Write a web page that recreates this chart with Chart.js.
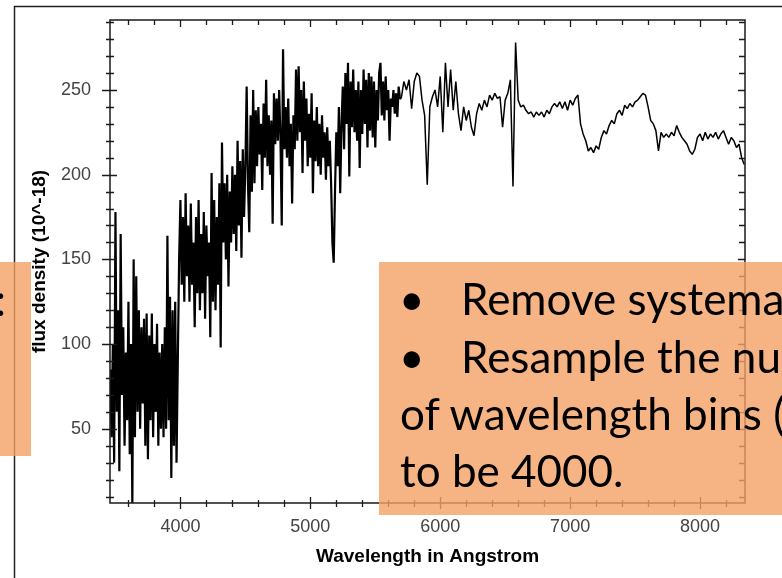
<!DOCTYPE html>
<html>
<head>
<meta charset="utf-8">
<script src="https://cdn.jsdelivr.net/npm/chart.js@4"></script>
<style>
  html, body { margin: 0; padding: 0; background: #fff; overflow: hidden; }
  #wrap { position: relative; width: 782px; height: 578px; overflow: hidden; }
  #spectrum { position: absolute; left: 0; top: 0; }
  .box { position: absolute; background: rgba(244, 160, 100, 0.8); }
  .slide-text { position: absolute; font-family: Lato, "Open Sans", sans-serif; font-size: 44px; line-height: 57.3px; color: #000; white-space: nowrap; }
</style>
</head>
<body>
<div id="wrap">
  <canvas id="spectrum" width="782" height="578"></canvas>
  <div class="box" style="left:0;top:262px;width:31px;height:194px"></div>
  <div class="box" style="left:379px;top:262px;width:420px;height:253px"></div>
  <div class="slide-text" style="left:-5px;top:271px">:</div>
  <div class="slide-text" style="left:399px;top:270px">•</div>
  <div class="slide-text" style="left:461px;top:270px">Remove systematic</div>
  <div class="slide-text" style="left:399px;top:327.6px">•</div>
  <div class="slide-text" style="left:461px;top:327.6px">Resample the number</div>
  <div class="slide-text" style="left:400px;top:384.9px">of wavelength bins (</div>
  <div class="slide-text" style="left:400px;top:442.2px">to be 4000.</div>
</div>
<script>
// spectrum: noisy blue part on a 10 A grid, red part on a 20 A grid
const noisyStart = 3460, noisyStep = 10;
const noisyFlux = [
  85, 45, 100, 30, 178, 60, 120, 25, 165, 70,
  110, 40, 95, 55, 125, 35, 100, 5, 150, 45,
  140, 60, 120, 50, 110, 65, 115, 40, 118, 32,
  105, 55, 118, 45, 100, 60, 112, 40, 95, 50,
  100, 45, 110, 50, 164, 55, 128, 21, 120, 40,
  125, 30, 90, 150, 185, 135, 175, 125, 189, 140,
  170, 125, 183, 135, 160, 110, 175, 130, 185, 120,
  165, 130, 178, 115, 170, 140, 160, 104, 201, 125,
  185, 120, 175, 135, 195, 98, 219, 160, 195, 150,
  200, 134, 190, 160, 205, 165, 200, 155, 220, 170,
  208, 151, 215, 175, 205, 252, 195, 166, 235, 190,
  250, 195, 238, 205, 240, 212, 230, 191, 242, 210,
  256, 205, 235, 200, 232, 171, 248, 218, 245, 220,
  250, 222, 170, 274, 215, 240, 210, 245, 205, 230,
  183, 235, 215, 262, 220, 264, 225, 250, 201, 255,
  220, 245, 205, 236, 210, 248, 189, 232, 208, 240,
  205, 230, 200, 235, 210, 225, 197, 228, 205, 220,
  195, 160, 148, 190, 225, 205, 240, 189, 230, 252,
  215, 260, 230, 266, 199, 255, 228, 262, 225, 250,
  220, 255, 204, 250, 224, 262, 230, 256, 216, 260,
  226, 258, 222, 255, 216, 250, 232, 260, 266, 235,
  255, 232, 258, 238, 250, 220, 245, 240, 250, 236,
  248, 234, 252, 245
];
const smoothStart = 5700, smoothStep = 20;
const smoothFlux = [
  245, 255, 250, 256, 239, 255, 260, 258, 244, 235,
  194, 240, 246, 250, 240, 258, 225, 266, 240, 262,
  238, 255, 236, 226, 240, 232, 238, 228, 223, 236,
  242, 238, 244, 240, 247, 244, 248, 245, 246, 228,
  244, 248, 256, 193, 278, 244, 240, 241, 238, 236,
  237, 234, 237, 235, 237, 234, 238, 236, 240, 242,
  240, 243, 239, 243, 238, 244, 241, 245, 247, 230,
  224, 220, 214, 216, 213, 217, 215, 222, 226, 224,
  229, 232, 230, 236, 238, 235, 241, 239, 242, 240,
  243, 244, 246, 248, 247, 240, 232, 230, 226, 214,
  225, 222, 224, 222, 225, 223, 229, 225, 222, 220,
  218, 214, 212, 215, 222, 224, 220, 225, 221, 224,
  222, 225, 221, 224, 226, 222, 218, 222, 220, 216,
  218, 210, 206
];

// axis ticks
const xMajorTicks = [4000, 5000, 6000, 7000, 8000];
const xMinorTicks = [3600, 3800, 4200, 4400, 4600, 4800, 5200, 5400, 5600, 5800,
  6200, 6400, 6600, 6800, 7200, 7400, 7600, 7800, 8200];
const yMajorTicks = [50, 100, 150, 200, 250];
const yMinorTicks = [10, 20, 30, 40, 60, 70, 80, 90, 110, 120, 130, 140, 160, 170,
  180, 190, 210, 220, 230, 240, 260, 270, 280, 290];

const points = [];
noisyFlux.forEach((f, i) => points.push({ x: noisyStart + i * noisyStep, y: f }));
smoothFlux.forEach((f, j) => points.push({ x: smoothStart + j * smoothStep, y: f }));

// box frame with ticks on all four sides, plus the slide's picture border
const frameTicks = {
  id: 'frameTicks',
  afterDraw(chart) {
    const { ctx, chartArea: a, scales: { x, y } } = chart;
    ctx.save();
    ctx.strokeStyle = '#1a1a1a';
    ctx.lineWidth = 1.5;
    ctx.strokeRect(a.left, a.top, a.right - a.left, a.bottom - a.top);

    ctx.lineWidth = 1.3;
    ctx.beginPath();
    xMajorTicks.forEach(v => {
      const px = Math.round(x.getPixelForValue(v)) + 0.5;
      ctx.moveTo(px, a.bottom - 6); ctx.lineTo(px, a.bottom + 6);
      ctx.moveTo(px, a.top); ctx.lineTo(px, a.top + 7);
    });
    xMinorTicks.forEach(v => {
      const px = Math.round(x.getPixelForValue(v)) + 0.5;
      ctx.moveTo(px, a.bottom - 3); ctx.lineTo(px, a.bottom + 4);
      ctx.moveTo(px, a.top); ctx.lineTo(px, a.top + 5);
    });
    yMajorTicks.forEach(v => {
      const py = Math.round(y.getPixelForValue(v)) + 0.5;
      ctx.moveTo(a.left - 8, py); ctx.lineTo(a.left + 7, py);
      ctx.moveTo(a.right - 7, py); ctx.lineTo(a.right, py);
    });
    yMinorTicks.forEach(v => {
      const py = Math.round(y.getPixelForValue(v)) + 0.5;
      ctx.moveTo(a.left - 4, py); ctx.lineTo(a.left + 4, py);
      ctx.moveTo(a.right - 6, py); ctx.lineTo(a.right, py);
    });
    ctx.stroke();

    ctx.lineWidth = 1.5;
    ctx.strokeStyle = '#222';
    ctx.beginPath();
    ctx.moveTo(14.5, 578); ctx.lineTo(14.5, 6.5); ctx.lineTo(782, 6.5);
    ctx.stroke();
    ctx.restore();
  }
};

const labelFont = { family: '"Liberation Sans", Arial, sans-serif', size: 18 };
const titleFont = { family: '"Liberation Sans", Arial, sans-serif', size: 19, weight: 'bold' };

new Chart(document.getElementById('spectrum').getContext('2d'), {
  type: 'line',
  data: {
    datasets: [{
      data: points,
      borderColor: '#000',
      borderWidth: 1.5,
      borderJoinStyle: 'bevel',
      pointRadius: 0,
      tension: 0,
      fill: false,
      segment: {
        // the noisy blue end is drawn as a dense band
        borderWidth: c => c.p0.parsed.x < smoothStart ? 2.2 : 1.5
      }
    }]
  },
  options: {
    responsive: false,
    animation: false,
    devicePixelRatio: 1,
    layout: { padding: { left: 0, top: 20, right: 37, bottom: 0 } },
    plugins: { legend: { display: false }, tooltip: { enabled: false } },
    scales: {
      x: {
        type: 'linear',
        min: 3458,
        max: 8346,
        afterBuildTicks: s => { s.ticks = xMajorTicks.map(v => ({ value: v })); },
        afterFit: s => { s.height = 75; s.paddingLeft = 0; s.paddingRight = 0; },
        grid: { display: false, drawTicks: false },
        border: { display: false },
        ticks: { font: labelFont, color: '#444', padding: 13, maxRotation: 0, autoSkip: false, callback: v => String(v) },
        title: { display: true, text: 'Wavelength in Angstrom', font: titleFont, color: '#000', padding: { top: 0, bottom: 10 } }
      },
      y: {
        min: 6.2,
        max: 291.3,
        afterBuildTicks: s => { s.ticks = yMajorTicks.map(v => ({ value: v })); },
        afterFit: s => { s.width = 110; s.paddingTop = 0; s.paddingBottom = 0; },
        grid: { display: false, drawTicks: false },
        border: { display: false },
        ticks: { font: labelFont, color: '#444', padding: 19, autoSkip: false, callback: v => String(v) },
        title: { display: true, text: 'flux density (10^-18)', font: titleFont, color: '#000', padding: { top: 28, bottom: 0 } }
      }
    }
  },
  plugins: [frameTicks]
});
</script>
</body>
</html>
